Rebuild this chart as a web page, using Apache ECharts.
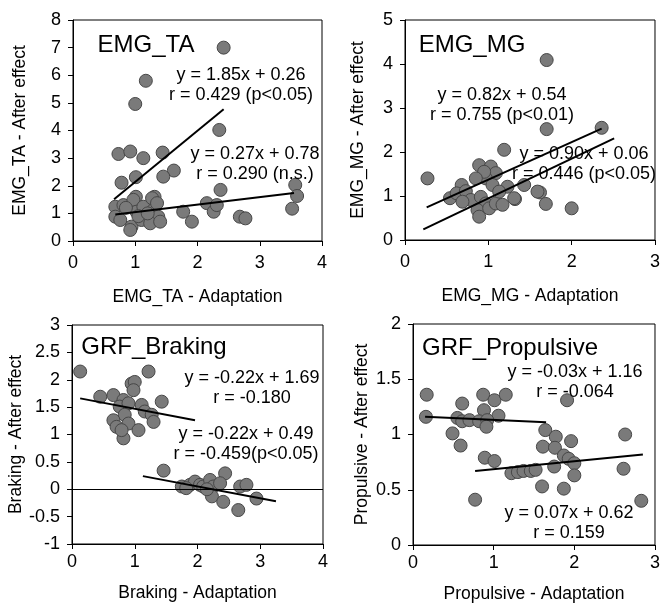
<!DOCTYPE html>
<html>
<head>
<meta charset="utf-8">
<script src="https://cdn.jsdelivr.net/npm/echarts@6/dist/echarts.min.js"></script>
<style>
html,body{margin:0;padding:0;background:#fff;}
#chart{width:663px;height:604px;}
</style>
</head>
<body>
<div id="chart"></div>
<script>
// EMG_TA points (two groups)
var taUpper = [[2.42,7.0],[1.17,5.8],[1.0,4.96],[2.35,4.02],[0.73,3.15],[0.92,3.24],[1.13,3.0],[1.44,3.2],[1.62,2.55],[1.45,2.33],[0.78,2.11],[1.01,2.31]];
var taLower = [[2.37,1.85],[3.57,2.03],[3.6,1.63],[3.52,1.17],[1.01,1.6],[1.31,1.6],[0.68,1.24],[0.81,1.30],[0.68,0.88],[0.76,0.76],[0.97,1.49],[1.02,1.06],[0.94,0.52],[0.92,0.40],[1.1,0.76],[1.13,1.24],[1.27,1.55],[1.29,1.12],[1.35,1.37],[1.37,0.88],[1.24,0.64],[1.77,1.06],[1.91,0.70],[2.15,1.37],[2.26,1.06],[2.31,1.30],[2.68,0.88],[2.77,0.82],[0.85,1.2],[1.05,0.9],[1.2,1.0],[1.4,0.7]];
var taLineUpper = [[0.66,1.51],[2.42,4.77]];
var taLineLower = [[0.68,0.96],[3.55,1.74]];

// EMG_MG points
var mgUpper = [[2.36,2.55],[1.70,2.52],[1.19,2.05],[0.27,1.40],[0.89,1.70],[1.03,1.67],[1.09,1.52],[0.97,1.40],[0.95,1.55],[0.85,1.40],[1.05,1.25],[0.68,1.25],[0.54,0.95],[0.62,1.06],[0.73,1.11],[1.23,1.21],[1.43,1.25]];
var mgLower = [[1.70,4.09],[1.62,1.08],[1.69,0.82],[2.0,0.72],[1.32,0.93],[1.59,1.10],[0.79,0.91],[0.69,0.87],[0.91,0.98],[0.97,0.83],[0.87,0.68],[0.89,0.53],[1.01,0.72],[1.09,0.83],[1.17,0.80],[1.31,0.95],[1.13,1.10]];
var mgLineUpper = [[0.26,0.74],[2.36,2.53]];
var mgLineLower = [[0.22,0.24],[2.51,2.31]];

// GRF_Braking points
var brUpper = [[0.13,2.15],[1.22,2.15],[0.45,1.69],[0.66,1.72],[1.43,1.60],[0.95,1.93],[1.0,1.96],[0.98,1.81],[0.82,1.63],[0.76,1.51],[0.90,1.57],[1.11,1.54],[1.16,1.42],[0.84,1.36],[1.27,1.36],[1.30,1.23],[0.66,1.26],[0.71,1.14],[0.90,1.20],[1.06,1.08],[0.82,0.93],[0.79,1.08]];
var brLower = [[1.46,0.34],[1.75,0.05],[1.88,0.08],[1.96,0.14],[2.04,0.08],[2.09,0.05],[2.2,0.17],[2.25,0.05],[2.44,0.29],[2.36,0.11],[2.23,-0.13],[2.41,-0.23],[2.65,-0.38],[2.68,0.05],[2.78,0.08],[2.94,-0.17],[1.82,0.02],[2.15,0.0]];
var brLineUpper = [[0.13,1.66],[1.96,1.26]];
var brLineLower = [[1.13,0.24],[3.25,-0.22]];

// GRF_Propulsive points
var prUpper = [[0.17,1.36],[0.16,1.16],[0.61,1.28],[0.87,1.36],[1.01,1.31],[1.15,1.36],[0.88,1.22],[1.06,1.17],[0.55,1.15],[0.61,1.12],[0.70,1.13],[0.82,1.12],[0.92,1.13],[0.91,1.07],[0.49,1.01],[0.59,0.90],[1.91,1.31]];
var prLower = [[0.89,0.79],[1.01,0.76],[0.77,0.41],[1.22,0.65],[1.30,0.66],[1.37,0.67],[1.46,0.67],[1.52,0.68],[1.64,1.04],[1.77,0.98],[1.96,0.94],[1.61,0.89],[1.76,0.88],[1.75,0.71],[1.87,0.81],[1.93,0.78],[2.0,0.74],[2.0,0.63],[1.60,0.53],[1.87,0.51],[2.63,1.0],[2.61,0.69],[2.83,0.40]];
var prLineUpper = [[0.15,1.16],[1.65,1.11]];
var prLineLower = [[0.77,0.67],[2.85,0.82]];

var xNames = ['EMG_TA - Adaptation','EMG_MG - Adaptation','Braking - Adaptation','Propulsive - Adaptation'];
var yNames = ['EMG_TA - After effect','EMG_MG - After effect','Braking - After effect','Propulsive - After effect'];
var xRanges = [[0,4,1],[0,3,1],[0,4,1],[0,3,1]];
var yRanges = [[0,8,1],[0,5,1],[-1,3,0.5],[0,2,0.5]];

var FONT = 'Liberation Sans, Arial, sans-serif';
var chart = echarts.init(document.getElementById('chart'));

var grids = [
  {left:73, top:20, width:249, height:221},
  {left:405, top:20, width:253, height:220},
  {left:72, top:325, width:251, height:219},
  {left:413, top:324, width:246, height:221}
];
var xLabelMargin = [13, 13, 9, 9];
var xNameGap = [47, 47, 40, 40];
var yNameGap = [44, 38, 44, 42];

var xAxes = [], yAxes = [];
for (var i = 0; i < 4; i++) {
  grids[i].show = true;
  grids[i].borderColor = '#000';
  grids[i].borderWidth = 1;
  xAxes.push({
    gridIndex:i, type:'value', min:xRanges[i][0], max:xRanges[i][1], interval:xRanges[i][2],
    name:xNames[i], nameLocation:'middle', nameGap:xNameGap[i],
    nameTextStyle:{color:'#000', fontSize:17.5, fontFamily:FONT},
    axisLine:{show:true, onZero:false, lineStyle:{color:'#000', width:1}},
    axisTick:{show:true, length:5, lineStyle:{color:'#000'}},
    axisLabel:{color:'#000', fontSize:18, fontFamily:FONT, margin:xLabelMargin[i]},
    splitLine:{show:false}
  });
  yAxes.push({
    gridIndex:i, type:'value', min:yRanges[i][0], max:yRanges[i][1], interval:yRanges[i][2],
    name:yNames[i], nameLocation:'middle', nameGap:yNameGap[i], nameRotate:90,
    nameTextStyle:{color:'#000', fontSize:17.5, fontFamily:FONT},
    axisLine:{show:true, onZero:false, lineStyle:{color:'#000', width:1}},
    axisTick:{show:true, length:5, lineStyle:{color:'#000'}},
    axisLabel:{color:'#000', fontSize:18, fontFamily:FONT, margin:12},
    splitLine:{show:false}
  });
}

function dots(idx, data) {
  return {
    type:'scatter', xAxisIndex:idx, yAxisIndex:idx, data:data,
    symbolSize:13,
    itemStyle:{color:'#7a7a7a', borderColor:'#474747', borderWidth:1, opacity:1},
    z:3
  };
}
function fit(idx, data) {
  return {
    type:'line', xAxisIndex:idx, yAxisIndex:idx, data:data,
    showSymbol:false, symbol:'none',
    lineStyle:{color:'#000', width:2},
    z:4
  };
}

var series = [
  dots(0, taUpper), dots(0, taLower), fit(0, taLineUpper), fit(0, taLineLower),
  dots(1, mgUpper), dots(1, mgLower), fit(1, mgLineUpper), fit(1, mgLineLower),
  dots(2, brUpper), dots(2, brLower), fit(2, brLineUpper), fit(2, brLineLower),
  dots(3, prUpper), dots(3, prLower), fit(3, prLineUpper), fit(3, prLineLower)
];
// zero line in the braking panel
series[8].markLine = {
  silent:true, symbol:'none', label:{show:false},
  lineStyle:{color:'#000', width:1.2, type:'solid'},
  data:[{yAxis:0}]
};

function txt(x, y, s, size) {
  return {
    type:'text', z:10,
    style:{
      x:x, y:y, text:s, fill:'#000',
      font:size + 'px ' + FONT,
      align:'center', verticalAlign:'middle',
      textAlign:'center', textVerticalAlign:'middle',
      lineHeight:20
    }
  };
}

var graphics = [
  txt(146, 45, 'EMG_TA', 24),
  txt(241, 85, 'y = 1.85x + 0.26\nr = 0.429 (p<0.05)', 18),
  txt(255, 164, 'y = 0.27x + 0.78\nr = 0.290 (n.s.)', 18),
  txt(472, 45, 'EMG_MG', 24),
  txt(502, 105, 'y = 0.82x + 0.54\nr = 0.755 (p<0.01)', 18),
  txt(584, 164, 'y = 0.90x + 0.06\nr = 0.446 (p<0.05)', 18),
  txt(154, 347, 'GRF_Braking', 24),
  txt(252, 388, 'y = -0.22x + 1.69\nr = -0.180', 18),
  txt(246, 444, 'y = -0.22x + 0.49\nr = -0.459(p<0.05)', 18),
  txt(510, 348, 'GRF_Propulsive', 24),
  txt(575, 382, 'y = -0.03x + 1.16\nr = -0.064', 18),
  txt(569, 523, 'y = 0.07x + 0.62\nr = 0.159', 18)
];

chart.setOption({
  animation:false,
  backgroundColor:'#fff',
  textStyle:{fontFamily:FONT},
  grid:grids,
  xAxis:xAxes,
  yAxis:yAxes,
  series:series,
  graphic:graphics
});
</script>
</body>
</html>
